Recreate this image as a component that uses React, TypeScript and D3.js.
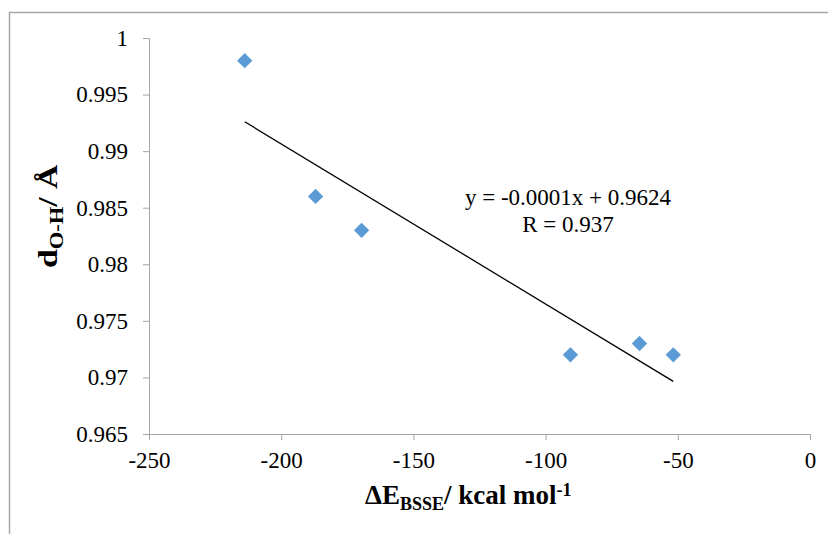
import { useEffect, useRef } from 'react'
import * as d3 from 'd3'

const WIDTH = 828
const HEIGHT = 534
const MARGIN = { left: 149, right: 18, top: 38, bottom: 100 }

// Data
const energies = [-213.8, -187, -169.6, -90.6, -64.5, -51.7]
const distances = [0.998, 0.986, 0.983, 0.972, 0.973, 0.972]
const xTicks = [-250, -200, -150, -100, -50, 0]
const yTicks = [0.965, 0.97, 0.975, 0.98, 0.985, 0.99, 0.995, 1]
const equationLines = ['y = -0.0001x + 0.9624', 'R = 0.937']

const FONT = "'Liberation Serif', 'Times New Roman', serif"
const AXIS_COLOR = '#a6a6a6'
const POINT_COLOR = '#5b9bd5'

export default function App() {
  const svgRef = useRef<SVGSVGElement>(null)

  useEffect(() => {
    if (!svgRef.current) return
    const svg = d3.select(svgRef.current)
    svg.selectAll('*').remove()

    const x = d3.scaleLinear().domain([-250, 0]).range([MARGIN.left, WIDTH - MARGIN.right])
    const y = d3.scaleLinear().domain([0.965, 1]).range([HEIGHT - MARGIN.bottom, MARGIN.top])

    svg.append('rect').attr('width', WIDTH).attr('height', HEIGHT).attr('fill', '#fff')

    // outer chart frame (only top and left edges fall inside the picture)
    svg.append('path')
      .attr('d', `M9.5,${HEIGHT} V12.5 H${WIDTH}`)
      .attr('fill', 'none')
      .attr('stroke', AXIS_COLOR)
      .attr('stroke-width', 1.5)

    // y axis
    const yAxis = svg.append('g')
      .attr('transform', `translate(${x(-250)},0)`)
      .call(d3.axisLeft(y).tickValues(yTicks).tickSize(6).tickPadding(15).tickFormat(d => String(+d)))
    yAxis.attr('font-family', null).attr('font-size', null)
    yAxis.select('.domain').attr('stroke', AXIS_COLOR)
    yAxis.selectAll('line').attr('stroke', AXIS_COLOR)
    yAxis.selectAll('text')
      .style('font-family', FONT)
      .style('font-size', '23px')
      .attr('fill', '#000')

    // x axis
    const xAxis = svg.append('g')
      .attr('transform', `translate(0,${y(0.965)})`)
      .call(d3.axisBottom(x).tickValues(xTicks).tickSize(6).tickPadding(12).tickFormat(d => String(d)))
    xAxis.attr('font-family', null).attr('font-size', null)
    xAxis.select('.domain').attr('stroke', AXIS_COLOR)
    xAxis.selectAll('line').attr('stroke', AXIS_COLOR)
    xAxis.selectAll('text')
      .style('font-family', FONT)
      .style('font-size', '23px')
      .attr('fill', '#000')

    // linear trendline, least squares over the points
    const mx = d3.mean(energies) as number
    const my = d3.mean(distances) as number
    const sxy = d3.sum(energies, (e, i) => (e - mx) * (distances[i] - my))
    const sxx = d3.sum(energies, e => (e - mx) ** 2)
    const slope = sxy / sxx
    const intercept = my - slope * mx
    const [x0, x1] = d3.extent(energies) as [number, number]
    const line = d3.line<number>().x(e => x(e)).y(e => y(slope * e + intercept))
    svg.append('path')
      .attr('d', line([x0, x1]))
      .attr('stroke', '#000')
      .attr('stroke-width', 1.3)
      .attr('fill', 'none')

    // diamond markers
    const diamond = d3.symbol().type(d3.symbolDiamond2).size(150)
    svg.append('g').selectAll('path')
      .data(energies)
      .enter()
      .append('path')
      .attr('d', diamond())
      .attr('transform', (e, i) => `translate(${x(e)},${y(distances[i])})`)
      .attr('fill', POINT_COLOR)

    // equation label
    svg.append('text')
      .style('font-family', FONT)
      .style('font-size', '23px')
      .attr('text-anchor', 'middle')
      .selectAll('tspan')
      .data(equationLines)
      .enter()
      .append('tspan')
      .attr('x', 568)
      .attr('y', (_, i) => 205 + i * 27)
      .text(d => d)

    // x axis title
    const xt = svg.append('text')
      .attr('x', 365)
      .attr('y', 504)
      .attr('text-anchor', 'start')
      .style('font-family', FONT)
      .style('font-weight', 'bold')
      .style('font-size', '27px')
    xt.append('tspan').text('ΔE')
    xt.append('tspan').style('font-size', '18px').attr('dy', 6).text('BSSE')
    xt.append('tspan').attr('dy', -6).text('/ kcal mol')
    xt.append('tspan').style('font-size', '18px').attr('dy', -8).text('-1')

    // y axis title (stretched along its length, as in the original)
    const yt = svg.append('text')
      .attr('transform', 'translate(57,268) rotate(-90) scale(1.25,1)')
      .attr('text-anchor', 'start')
      .style('font-family', FONT)
      .style('font-weight', 'bold')
      .style('font-size', '27px')
    yt.append('tspan').text('d')
    yt.append('tspan').style('font-size', '18px').attr('dy', 6).text('O-H')
    yt.append('tspan').attr('dy', -6).text('/ Å')
  }, [])

  return (
    <svg
      ref={svgRef}
      width={WIDTH}
      height={HEIGHT}
      style={{ position: 'absolute', left: 0, top: 0, display: 'block', fontFamily: FONT }}
    />
  )
}
